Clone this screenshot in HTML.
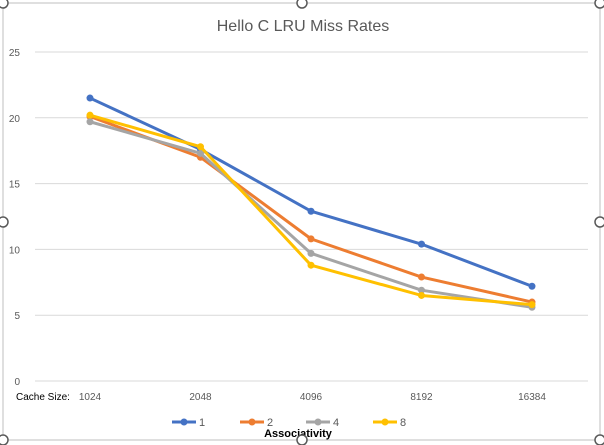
<!DOCTYPE html>
<html><head><meta charset="utf-8"><style>
html,body{margin:0;padding:0;background:#fff;}
svg{display:block;font-family:"Liberation Sans",sans-serif;}
</style></head><body>
<svg id="chart" width="604" height="445">
<rect x="3" y="3" width="597" height="437" fill="#fff" stroke="#bfbfbf" stroke-width="1"/>
<text x="303" y="31" text-anchor="middle" font-size="16" fill="#595959">Hello C LRU Miss Rates</text>
<g id="grid"></g><g id="series"></g><g id="xlabels"></g>
<text x="16" y="400" font-size="10" fill="#000">Cache Size:</text>
<g id="legend"></g>
<text x="298" y="437" text-anchor="middle" font-size="11" font-weight="bold" fill="#000">Associativity</text>
<g id="handles"></g>
</svg>
<script>
const categories=["1024","2048","4096","8192","16384"];
const yTicks=[0,5,10,15,20,25];
const seriesNames=["1","2","4","8"];
const s1=[21.5,17.6,12.9,10.4,7.2];
const s2=[20.1,17.0,10.8,7.9,6.0];
const s4=[19.7,17.3,9.7,6.9,5.6];
const s8=[20.2,17.8,8.8,6.5,5.8];
const allSeries=[s1,s2,s4,s8];
const colors=["#4472c4","#ed7d31","#a5a5a5","#ffc000"];
const NS="http://www.w3.org/2000/svg";
function el(t,a,p){const e=document.createElementNS(NS,t);for(const k in a)e.setAttribute(k,a[k]);p.appendChild(e);return e;}
const y=v=>381-v*(329/25);
const x=i=>90+i*110.5;
const grid=document.getElementById('grid');
yTicks.forEach(t=>{
 const l=el('line',{x1:35,x2:588,y1:y(t),y2:y(t),stroke:'#d9d9d9','stroke-width':1},grid);
 
 
 const tx=el('text',{x:20,y:y(t)+4,'text-anchor':'end','font-size':10,fill:'#595959'},grid);
 tx.textContent=t;
 
 
});
const xl=document.getElementById('xlabels');
categories.forEach((c,i)=>{
 const tx=el('text',{x:x(i),y:400,'text-anchor':'middle','font-size':10,fill:'#595959'},xl);
 tx.textContent=c;
 
 
});
const sg=document.getElementById('series');
allSeries.forEach((s,k)=>{
 const p=el('polyline',{points:s.map((v,i)=>x(i)+','+y(v)).join(' '),fill:'none',stroke:colors[k],'stroke-width':3,'stroke-linejoin':'round'},sg);
 
 
 s.forEach((v,i)=>{
  const c=el('circle',{cx:x(i),cy:y(v),r:3.5,fill:colors[k]},sg);
  
  
 });
});
const lg=document.getElementById('legend');
const lx=[172,240,306,373];
seriesNames.forEach((n,k)=>{
 const g=el('g',{},lg);
 
 
 el('line',{x1:lx[k],x2:lx[k]+24,y1:422,y2:422,stroke:colors[k],'stroke-width':3},g);
 el('circle',{cx:lx[k]+12,cy:422,r:3.5,fill:colors[k]},g);
 const t=el('text',{x:lx[k]+27,y:426,'font-size':11,fill:'#595959'},g);
 t.textContent=n;
});
const hg=document.getElementById('handles');
[[3,3],[302,3],[600,3],[3,222],[600,222],[3,440],[302,440],[600,440]].forEach((h,i)=>{
 const c=el('circle',{cx:h[0],cy:h[1],r:5,fill:'#fff',stroke:'#595959','stroke-width':1.5},hg);
 
 
});
</script>
</body></html>
